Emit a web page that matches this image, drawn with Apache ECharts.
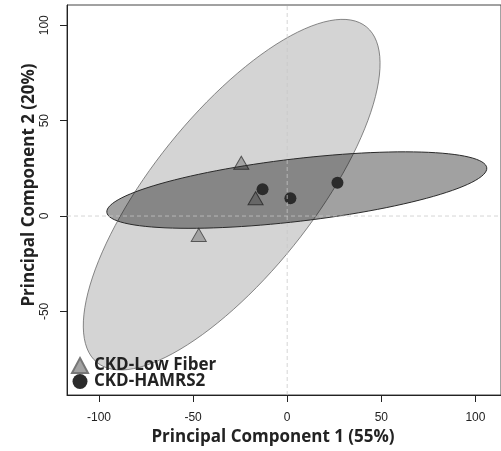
<!DOCTYPE html>
<html>
<head>
<meta charset="utf-8">
<script src="https://cdn.jsdelivr.net/npm/echarts@6/dist/echarts.min.js"></script>
<style>
  html, body { margin: 0; padding: 0; background: #fff; }
  #chart { width: 501px; height: 451px; }
</style>
</head>
<body>
<div id="chart"></div>
<script>
//各组样本在PC1/PC2上的得分
var lowFiberX = [-24.4, -16.8, -47.0]
var lowFiberY = [27.9, 9.3, -9.9]
var hamrsX = [-13.1, 1.7, 26.7]
var hamrsY = [14.0, 9.3, 17.5]

//置信椭圆：中心x, 中心y, 长半轴, 短半轴, 旋转角(度)
var lowFiberEllipse = [-29.5, 11.2, 113.4, 42.4, 50.8]
var hamrsEllipse = [5.1, 13.6, 101.6, 16.4, 6.6]

//坐标轴范围与刻度
var xRange = [-117, 113.6]
var yRange = [-93.8, 110.6]
var xTicks = [-100, -50, 0, 50, 100]
var yTicks = [-50, 0, 50, 100]

function toPoints (xs, ys) {
  return xs.map(function (x, i) { return [x, ys[i]] })
}

//把数据空间的椭圆转换成像素多边形
function ellipseItem (fill, stroke, width) {
  return function (params, api) {
    var cx = api.value(0), cy = api.value(1)
    var a = api.value(2), b = api.value(3)
    var t = api.value(4) * Math.PI / 180
    var pts = []
    for (var i = 0; i < 120; i++) {
      var s = i / 120 * Math.PI * 2
      var u = a * Math.cos(s), v = b * Math.sin(s)
      pts.push(api.coord([cx + u * Math.cos(t) - v * Math.sin(t), cy + u * Math.sin(t) + v * Math.cos(t)]))
    }
    return {
      type: 'polygon',
      shape: { points: pts },
      style: { fill: fill, stroke: stroke, lineWidth: width }
    }
  }
}

var titleFont = { fontFamily: 'Open Sans', fontWeight: 'bold', fontSize: 17, color: '#222' }
var zeroStyle = { color: 'rgba(200,200,200,0.75)', type: [4, 3], width: 1 }

var option = {
  backgroundColor: '#fff',
  animation: false,
  grid: { left: 67, right: -1, top: 5, bottom: 56, show: true, borderColor: '#444', borderWidth: 1 },
  xAxis: {
    type: 'value', min: xRange[0], max: xRange[1],
    name: 'Principal Component 1 (55%)', nameLocation: 'middle', nameGap: 34, nameMoveOverlap: false,
    nameTextStyle: Object.assign({ padding: [0, 22, 0, 0] }, titleFont),
    axisLine: { onZero: false, lineStyle: { color: '#222' } },
    axisTick: { length: 7, lineStyle: { color: '#222' }, customValues: xTicks },
    axisLabel: { customValues: xTicks, margin: 17, fontFamily: 'Liberation Sans', fontSize: 12, color: '#222' },
    splitLine: { show: false }
  },
  yAxis: {
    type: 'value', min: yRange[0], max: yRange[1],
    name: 'Principal Component 2 (20%)', nameLocation: 'middle', nameGap: 29, nameMoveOverlap: false,
    nameTextStyle: Object.assign({ padding: [0, 0, 0, 30] }, titleFont),
    axisLine: { onZero: false, lineStyle: { color: '#222' } },
    axisTick: { length: 7, lineStyle: { color: '#222' }, customValues: yTicks },
    axisLabel: { customValues: yTicks, rotate: 90, margin: 16, fontFamily: 'Liberation Sans', fontSize: 12, color: '#222' },
    splitLine: { show: false }
  },
  legend: {
    orient: 'vertical', left: 71, top: 357, itemGap: -1, padding: 0,
    itemWidth: 16, itemHeight: 15,
    textStyle: { fontFamily: 'Open Sans', fontWeight: 'bold', fontSize: 17, lineHeight: 15, color: '#222', padding: [0, 0, 0, 1] },
    data: [
      { name: 'CKD-Low Fiber', itemStyle: { borderColor: '#777' } },
      { name: 'CKD-HAMRS2' }
    ]
  },
  series: [
    {
      type: 'custom', name: 'ellipse1', z: 1, silent: true,
      renderItem: ellipseItem('#d4d4d4', '#6a6a6a', 0.8),
      data: [lowFiberEllipse]
    },
    {
      type: 'scatter', name: 'CKD-Low Fiber', z: 2, symbol: 'triangle', symbolSize: [15, 13],
      itemStyle: { color: '#a3a3a3', borderColor: '#555', borderWidth: 1, opacity: 1 },
      data: toPoints(lowFiberX, lowFiberY)
    },
    {
      type: 'custom', name: 'ellipse2', z: 3, silent: true,
      renderItem: ellipseItem('rgba(0,0,0,0.37)', '#2a2a2a', 1),
      data: [hamrsEllipse]
    },
    {
      type: 'scatter', name: 'CKD-HAMRS2', z: 4, symbol: 'circle', symbolSize: 12,
      itemStyle: { color: '#2b2b2b', opacity: 1 },
      data: toPoints(hamrsX, hamrsY)
    },
    //零参考线
    {
      type: 'line', name: 'v0', z: 5, silent: true, symbol: 'none',
      lineStyle: zeroStyle, data: [[0, yRange[0]], [0, yRange[1]]]
    },
    {
      type: 'line', name: 'h0', z: 5, silent: true, symbol: 'none',
      lineStyle: zeroStyle, data: [[xRange[0], 0], [xRange[1], 0]]
    }
  ]
}

var chart = echarts.init(document.getElementById('chart'))
chart.setOption(option)
</script>
</body>
</html>
